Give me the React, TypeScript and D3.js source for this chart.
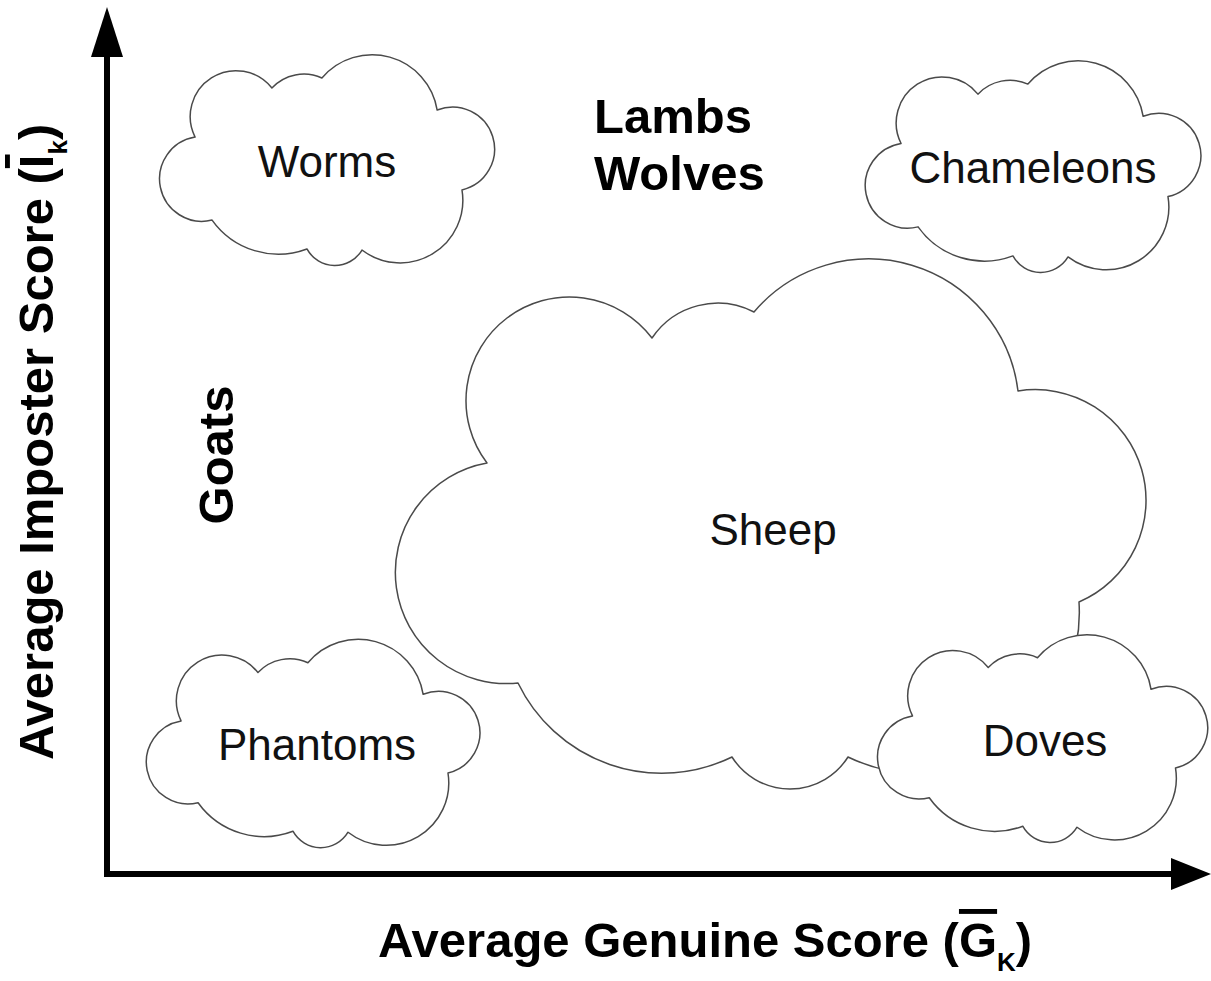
import React from 'react';
import * as d3 from 'd3';

const WIDTH = 1211;
const HEIGHT = 981;

// Data space: origin at the axes' corner, x = average genuine score units, y = average imposter score units
const xDomain = [0, 1104];
const yDomain = [0, 874];

// Small clouds (same cloud shape, different placement)
const cloudNames = ['Worms', 'Chameleons', 'Phantoms', 'Doves'];
const cloudX0 = [50, 756, 36, 768];
const cloudX1 = [390, 1096, 376, 1103];
const cloudYBottom = [609, 602, 27, 32];
const cloudYTop = [817, 811, 232, 237];
const cloudLabelX = [220, 926, 210, 938];
const cloudLabelY = [697, 691, 114, 118];

// Cloud template: notch points (fraction of box, u from left, v from top) and lobe bulge (fraction of chord)
const lobeNotchU = [0.112, 0.338, 0.485, 0.824, 0.897, 0.603, 0.441, 0.162];
const lobeNotchV = [0.385, 0.149, 0.101, 0.255, 0.639, 0.928, 0.923, 0.784];
const lobeBulge = [0.45, 0.16, 0.32, 0.54, 0.34, 0.29, 0.17, 0.52];

// Sheep cloud: notch points and lobe bulges in data units
const sheepNotchX = [380, 545, 647, 911, 972, 741, 625, 411];
const sheepNotchY = [411, 536, 562, 483, 272, 117, 117, 191];
const sheepBulge = [103, 20, 90, 97, 80, 32, 47, 107];
const sheepLabelX = 666;
const sheepLabelY = 329;

// Bold free labels
const groupNames = ['Lambs', 'Wolves'];
const groupX = [487, 487];
const groupY = [741, 684];
const goatsX = 126;
const goatsY = 419;

const FONT = '"Liberation Sans", Arial, Helvetica, sans-serif';

function arcPath(pts: [number, number][], sags: number[]): string {
  let d = `M${pts[0][0]},${pts[0][1]}`;
  for (let i = 0; i < pts.length; i++) {
    const a = pts[i];
    const b = pts[(i + 1) % pts.length];
    const c = Math.hypot(b[0] - a[0], b[1] - a[1]);
    const s = sags[i];
    const r = (c * c) / 4 / (2 * s) + s / 2;
    const large = s > c / 2 ? 1 : 0;
    d += `A${r.toFixed(2)},${r.toFixed(2)} 0 ${large} 1 ${b[0].toFixed(2)},${b[1].toFixed(2)}`;
  }
  return d + 'Z';
}

export default function App() {
  const x = d3.scaleLinear().domain(xDomain).range([107, 1211]);
  const y = d3.scaleLinear().domain(yDomain).range([874, 0]);

  const sheepPts: [number, number][] = sheepNotchX.map((v, i) => [x(v), y(sheepNotchY[i])]);
  const sheepD = arcPath(sheepPts, sheepBulge);

  const clouds = cloudNames.map((name, k) => {
    const px0 = x(cloudX0[k]);
    const px1 = x(cloudX1[k]);
    const py0 = y(cloudYTop[k]);
    const py1 = y(cloudYBottom[k]);
    const pts: [number, number][] = lobeNotchU.map((u, i) => [
      px0 + u * (px1 - px0),
      py0 + lobeNotchV[i] * (py1 - py0),
    ]);
    const sags = pts.map((a, i) => {
      const b = pts[(i + 1) % pts.length];
      return lobeBulge[i] * Math.hypot(b[0] - a[0], b[1] - a[1]);
    });
    return { name, d: arcPath(pts, sags), lx: x(cloudLabelX[k]), ly: y(cloudLabelY[k]) };
  });

  const ox = x(0);
  const oy = y(0);
  const yTip = y(867);
  const xTip = x(1104);
  const arrowLenY = 50;
  const arrowLenX = 40;
  const arrowHalf = 16;

  const cloudStroke = '#4a4a4a';

  return (
    <svg
      width={WIDTH}
      height={HEIGHT}
      style={{ position: 'absolute', left: 0, top: 0, background: '#fff' }}
      fontFamily={FONT}
    >
      <rect x={0} y={0} width={WIDTH} height={HEIGHT} fill="#fff" />

      {/* Axes */}
      <line x1={ox} y1={oy + 3} x2={ox} y2={yTip + arrowLenY - 2} stroke="#000" strokeWidth={6} />
      <path
        d={`M${ox},${yTip}L${ox - arrowHalf},${yTip + arrowLenY}L${ox + arrowHalf},${yTip + arrowLenY}Z`}
        fill="#000"
      />
      <line x1={ox - 3} y1={oy} x2={xTip - arrowLenX + 2} y2={oy} stroke="#000" strokeWidth={6} />
      <path
        d={`M${xTip},${oy}L${xTip - arrowLenX},${oy - arrowHalf}L${xTip - arrowLenX},${oy + arrowHalf}Z`}
        fill="#000"
      />

      {/* Sheep cloud */}
      <path d={sheepD} fill="#fff" stroke={cloudStroke} strokeWidth={1.5} strokeLinejoin="round" />
      <text x={x(sheepLabelX)} y={y(sheepLabelY)} textAnchor="middle" fontSize={44} fill="#111">
        Sheep
      </text>

      {/* Small clouds */}
      {clouds.map((c) => (
        <g key={c.name}>
          <path d={c.d} fill="#fff" stroke={cloudStroke} strokeWidth={1.5} strokeLinejoin="round" />
          <text x={c.lx} y={c.ly} textAnchor="middle" fontSize={44} fill="#111">
            {c.name}
          </text>
        </g>
      ))}

      {/* Bold labels */}
      {groupNames.map((g, i) => (
        <text key={g} x={x(groupX[i])} y={y(groupY[i])} fontSize={49} fontWeight="bold" fill="#000">
          {g}
        </text>
      ))}
      <text
        transform={`translate(${x(goatsX)},${y(goatsY)}) rotate(-90)`}
        textAnchor="middle"
        fontSize={49}
        fontWeight="bold"
        fill="#000"
      >
        Goats
      </text>

      {/* Axis titles */}
      <text x={378} y={957} fontSize={49} fontWeight="bold" fill="#000">
        Average Genuine Score (
        <tspan style={{ textDecoration: 'overline' }}>G</tspan>
        <tspan fontSize={26} dy={14}>K</tspan>
        <tspan dy={-14}>)</tspan>
      </text>
      <text transform="translate(53,760) rotate(-90)" fontSize={49} fontWeight="bold" fill="#000">
        Average Imposter Score (
        <tspan style={{ textDecoration: 'overline' }}>I</tspan>
        <tspan fontSize={26} dy={14}>k</tspan>
        <tspan dy={-14}>)</tspan>
      </text>
    </svg>
  );
}
